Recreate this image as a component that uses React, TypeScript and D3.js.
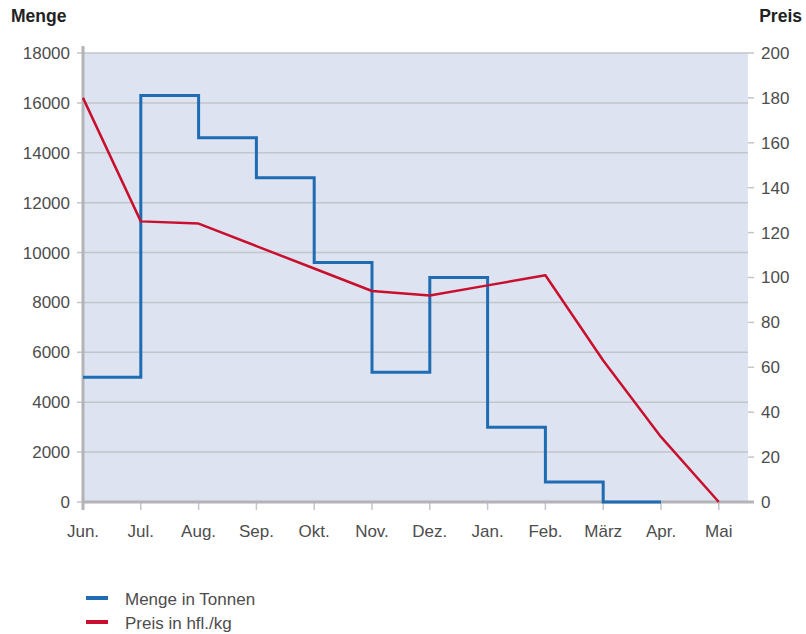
import * as React from 'react'
import * as d3 from 'd3'

const months = ['Jun.', 'Jul.', 'Aug.', 'Sep.', 'Okt.', 'Nov.', 'Dez.', 'Jan.', 'Feb.', 'März', 'Apr.', 'Mai']
// Menge in Tonnen, one value per month interval (Jun.-Jul., Jul.-Aug., ...)
const menge = [5000, 16300, 14600, 13000, 9600, 5200, 9000, 3000, 800, 0]
// Preis in hfl./kg at each month
const preis = [180, 125, 124, 114, 104, 94, 92, 96.5, 101, 63, 29, 0]
const mengeTicks = [0, 2000, 4000, 6000, 8000, 10000, 12000, 14000, 16000, 18000]
const preisTicks = [0, 20, 40, 60, 80, 100, 120, 140, 160, 180, 200]

const W = 806
const H = 634
const left = 83
const top = 53
const bottom = 502
const monthStep = 57.8
const plotRight = 748

const blue = '#1f6cb3'
const red = '#c8102e'
const grid = '#c3c5cc'
const axis = '#b4b4b8'
const text = '#4d4d4d'
const font = 'Liberation Sans, Arial, sans-serif'
const fs = 17

export default function App() {
  const x = d3.scaleLinear().domain([0, months.length - 1]).range([left, left + monthStep * (months.length - 1)])
  const yL = d3.scaleLinear().domain([0, 18000]).range([bottom, top])
  const yR = d3.scaleLinear().domain([0, 200]).range([bottom, top])

  const stepPts: [number, number][] = []
  menge.forEach((v, i) => {
    stepPts.push([x(i), yL(v)])
    stepPts.push([x(i + 1), yL(v)])
  })
  const mengePath = d3.line()(stepPts) || ''
  const preisPath = d3.line<number>().x((_, i) => x(i)).y(d => yR(d))(preis) || ''

  return (
    <svg width={W} height={H} style={{ position: 'absolute', left: 0, top: 0 }}>
      <rect x={left} y={top} width={plotRight - left} height={bottom - top} fill="#dde3f0" />
      {mengeTicks.map(t => (
        <line key={'g' + t} x1={77} x2={plotRight} y1={yL(t)} y2={yL(t)} stroke={grid} strokeWidth={1.5} />
      ))}
      {preisTicks.map(t => (
        <line key={'rt' + t} x1={plotRight} x2={754} y1={yR(t)} y2={yR(t)} stroke={grid} strokeWidth={1.5} />
      ))}
      {months.map((m, i) => (
        <line key={'xt' + m} x1={x(i)} x2={x(i)} y1={bottom} y2={510} stroke={grid} strokeWidth={1.5} />
      ))}
      <line x1={left} x2={left} y1={46} y2={510} stroke={axis} strokeWidth={3} />
      <line x1={left} x2={754} y1={bottom} y2={bottom} stroke={axis} strokeWidth={3} />

      <path d={mengePath} fill="none" stroke={blue} strokeWidth={3} />
      <path d={preisPath} fill="none" stroke={red} strokeWidth={2.5} strokeLinejoin="round" />

      {mengeTicks.map(t => (
        <text key={'ll' + t} x={70} y={yL(t)} dy="0.35em" textAnchor="end" fontFamily={font} fontSize={fs} fill={text}>{t}</text>
      ))}
      {preisTicks.map(t => (
        <text key={'rl' + t} x={761} y={yR(t)} dy="0.35em" fontFamily={font} fontSize={fs} fill={text}>{t}</text>
      ))}
      {months.map((m, i) => (
        <text key={'xl' + m} x={x(i)} y={537} textAnchor="middle" fontFamily={font} fontSize={fs} fill={text}>{m}</text>
      ))}
      <text x={11} y={22} fontFamily={font} fontSize={17.5} fontWeight="bold" fill="#222">Menge</text>
      <text x={802} y={22} textAnchor="end" fontFamily={font} fontSize={17.5} fontWeight="bold" fill="#222">Preis</text>

      <line x1={86} x2={108} y1={598} y2={598} stroke={blue} strokeWidth={4} />
      <text x={125} y={605} fontFamily={font} fontSize={fs} fill={text}>Menge in Tonnen</text>
      <line x1={86} x2={108} y1={622} y2={622} stroke={red} strokeWidth={4} />
      <text x={125} y={629} fontFamily={font} fontSize={fs} fill={text}>Preis in hfl./kg</text>
    </svg>
  )
}
